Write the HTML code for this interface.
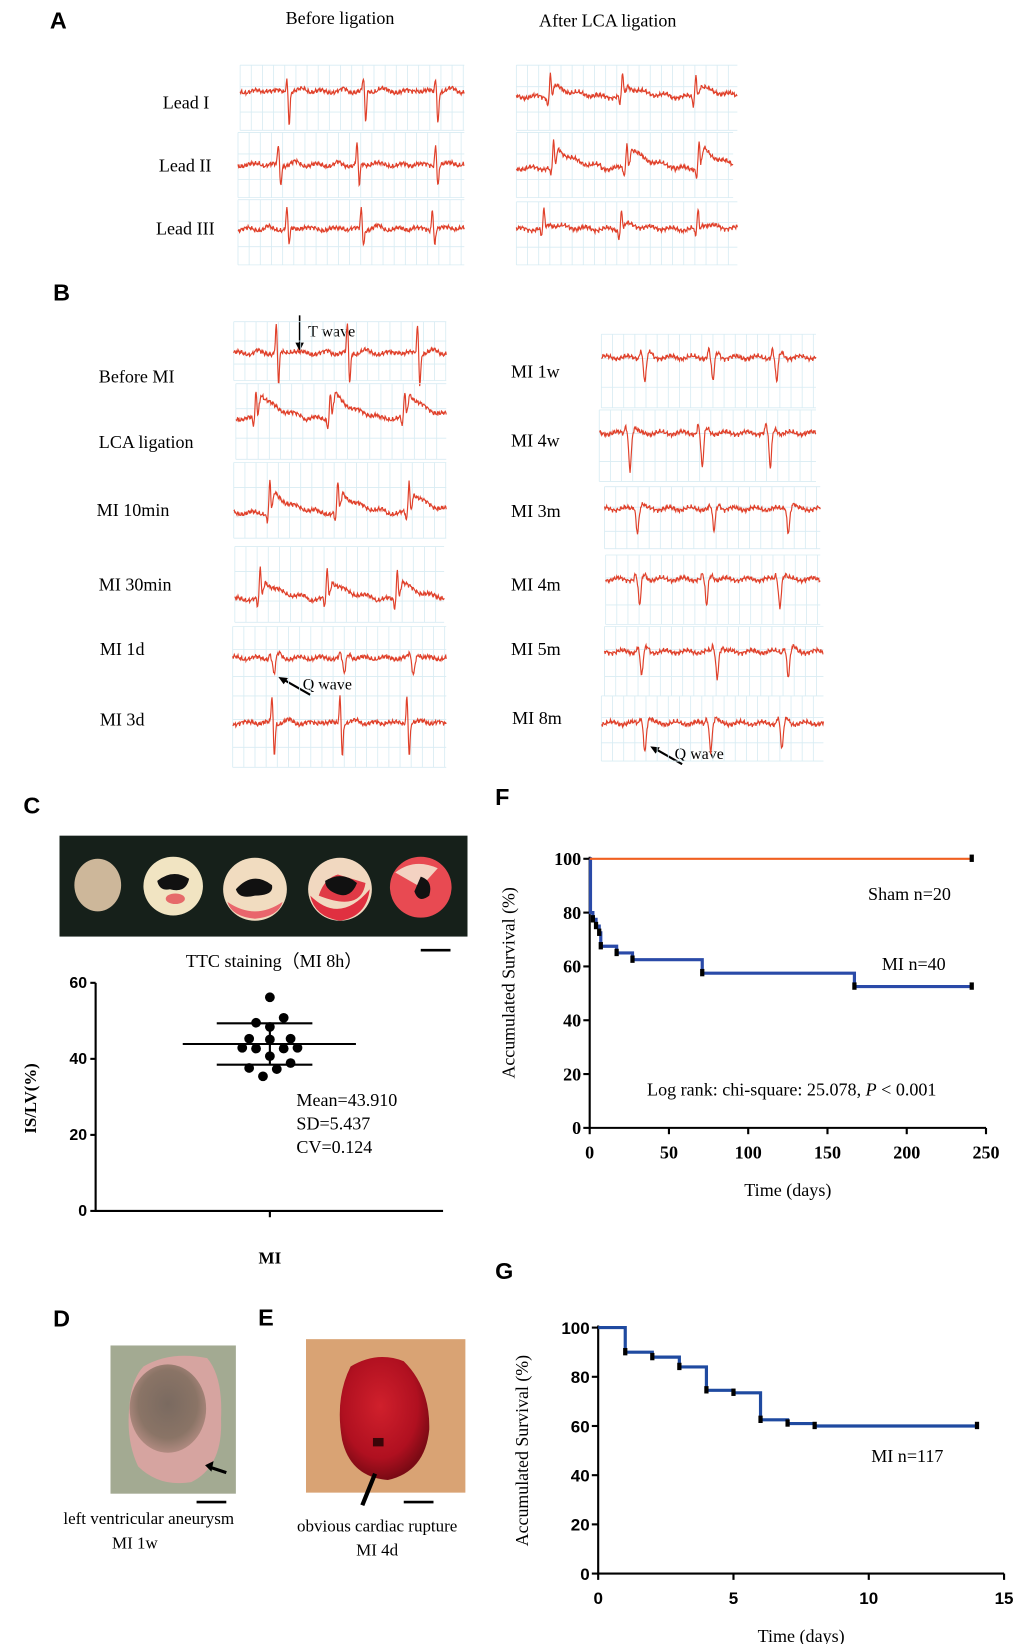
<!DOCTYPE html>
<html><head><meta charset="utf-8">
<style>
html,body{margin:0;padding:0;background:#fff;}
svg{display:block;}
.serif{font-family:"Liberation Serif",serif;}
.sans{font-family:"Liberation Sans",sans-serif;}
</style></head>
<body>
<svg id="fig" width="1020" height="1644" viewBox="0 0 960 1564" preserveAspectRatio="none" xmlns="http://www.w3.org/2000/svg">
<defs>
<radialGradient id="hd" cx="50%" cy="45%" r="55%"><stop offset="0" stop-color="#7a6a60"/><stop offset="0.7" stop-color="#8a7466"/><stop offset="1" stop-color="#b08a80"/></radialGradient>
<radialGradient id="he" cx="45%" cy="40%" r="60%"><stop offset="0" stop-color="#d0202c"/><stop offset="0.7" stop-color="#b01020"/><stop offset="1" stop-color="#7a0a14"/></radialGradient>
</defs>
<g id="panelA">
<text x="47" y="27" class="sans" font-size="22" font-weight="bold">A</text>
<text x="320" y="23" class="serif" font-size="17" text-anchor="middle">Before ligation</text>
<text x="572" y="25" class="serif" font-size="17" text-anchor="middle">After LCA ligation</text>
<text x="197" y="103" class="serif" font-size="17" text-anchor="end">Lead I</text>
<text x="199" y="163" class="serif" font-size="17" text-anchor="end">Lead II</text>
<text x="202" y="223" class="serif" font-size="17" text-anchor="end">Lead III</text>
</g>
<g id="panelB">
<text x="50" y="286" class="sans" font-size="22" font-weight="bold">B</text>
<text x="93" y="364" class="serif" font-size="17">Before MI</text>
<text x="93" y="426" class="serif" font-size="17">LCA ligation</text>
<text x="91" y="491" class="serif" font-size="17">MI 10min</text>
<text x="93" y="562" class="serif" font-size="17">MI 30min</text>
<text x="94" y="623" class="serif" font-size="17">MI 1d</text>
<text x="94" y="690" class="serif" font-size="17">MI 3d</text>
<text x="481" y="359" class="serif" font-size="17">MI 1w</text>
<text x="481" y="425" class="serif" font-size="17">MI 4w</text>
<text x="481" y="492" class="serif" font-size="17">MI 3m</text>
<text x="481" y="562" class="serif" font-size="17">MI 4m</text>
<text x="481" y="623" class="serif" font-size="17">MI 5m</text>
<text x="482" y="689" class="serif" font-size="17">MI 8m</text>
<line x1="282" y1="300" x2="282" y2="330" stroke="#000" stroke-width="1.5"/>
<path d="M278,326 L282,334 L286,326 Z" fill="#000"/>
<text x="290" y="320" class="serif" font-size="15">T wave</text>
<line x1="292" y1="661" x2="266" y2="646" stroke="#000" stroke-width="2"/>
<path d="M262,644 L271,645 L267,651 Z" fill="#000"/>
<text x="285" y="656" class="serif" font-size="15">Q wave</text>
<line x1="642" y1="727" x2="616" y2="712" stroke="#000" stroke-width="2"/>
<path d="M612,710 L621,711 L617,717 Z" fill="#000"/>
<text x="635" y="722" class="serif" font-size="15">Q wave</text>
</g>
<g id="ecgs"></g>

<g id="panelC">
<text x="22" y="774" class="sans" font-size="22" font-weight="bold">C</text>
<rect x="56" y="795" width="384" height="96" fill="#16201a"/>
<ellipse cx="92" cy="842" rx="22" ry="25" fill="#cdb79a"/>
<g><circle cx="163" cy="843" r="28" fill="#f1e4c2"/><ellipse cx="165" cy="855" rx="9" ry="5" fill="#e66a6a"/><path d="M148,838 Q163,826 178,836 Q175,850 160,846 Q150,848 148,838 Z" fill="#111"/></g>
<g><circle cx="240" cy="846" r="30" fill="#f1dcc0"/><path d="M214,858 Q240,876 266,858 Q262,872 240,874 Q218,872 214,858Z" fill="#e9656c"/><path d="M222,846 Q238,828 256,842 Q258,852 240,852 Q225,856 222,846 Z" fill="#111"/></g>
<g><circle cx="320" cy="846" r="30" fill="#f1d8c0"/><path d="M292,852 Q320,880 348,846 Q345,872 320,876 Q296,872 292,852Z" fill="#e03040"/><path d="M300,852 Q340,868 344,840 L318,832 Q305,836 300,852Z" fill="#e03a46"/><path d="M306,838 Q322,828 336,840 Q330,856 316,850 Q306,846 306,838 Z" fill="#111"/></g>
<g><circle cx="396" cy="844" r="29" fill="#e84a52"/><path d="M372,830 Q390,816 412,826 L396,844 Z" fill="#f3d2c2"/><path d="M396,834 Q408,838 404,852 Q394,860 390,848 Z" fill="#111"/></g>
<line x1="396" y1="904" x2="424" y2="904" stroke="#000" stroke-width="2.5"/>
<text x="258" y="920" class="serif" font-size="17" text-anchor="middle">TTC staining（MI 8h）</text>
</g>
<g id="chartC"></g>

<g id="panelD">
<text x="50" y="1262" class="sans" font-size="22" font-weight="bold">D</text>
<rect x="104" y="1280" width="118" height="141" fill="#a3aa92"/>
<path d="M135,1300 Q160,1285 195,1292 Q210,1310 208,1350 Q210,1395 180,1410 Q150,1415 130,1395 Q118,1370 122,1335 Q124,1312 135,1300Z" fill="#d6a4a0"/>
<ellipse cx="158" cy="1340" rx="36" ry="42" fill="url(#hd)"/>
<line x1="213" y1="1401" x2="198" y2="1396" stroke="#000" stroke-width="3"/>
<path d="M193,1394 L201,1390 L199,1400 Z" fill="#000"/>
<line x1="185" y1="1429" x2="213" y2="1429" stroke="#000" stroke-width="2.5"/>
<text x="140" y="1450" class="serif" font-size="16" text-anchor="middle">left ventricular aneurysm</text>
<text x="127" y="1473" class="serif" font-size="16" text-anchor="middle">MI 1w</text>
</g>
<g id="panelE">
<text x="243" y="1261" class="sans" font-size="22" font-weight="bold">E</text>
<rect x="288" y="1274" width="150" height="146" fill="#d9a374"/>
<path d="M330,1300 Q355,1285 380,1295 Q405,1320 404,1360 Q400,1400 365,1408 Q330,1405 322,1370 Q315,1330 330,1300Z" fill="url(#he)"/>
<rect x="351" y="1368" width="10" height="8" fill="#3a0508"/>
<line x1="353" y1="1402" x2="341" y2="1432" stroke="#000" stroke-width="4"/>
<line x1="380" y1="1429" x2="408" y2="1429" stroke="#000" stroke-width="2.5"/>
<text x="355" y="1457" class="serif" font-size="16" text-anchor="middle">obvious  cardiac rupture</text>
<text x="355" y="1480" class="serif" font-size="16" text-anchor="middle">MI  4d</text>
</g>

<g id="chartF">
<text x="466" y="766" class="sans" font-size="22" font-weight="bold">F</text>
</g>
<g id="chartG">
<text x="466" y="1217" class="sans" font-size="22" font-weight="bold">G</text>
</g>
</svg>
<script>
var cValues = [56.2, 49.5, 50.8, 48.4, 45.3, 45.1, 45.3, 42.9, 42.7, 42.7, 42.9, 40.7, 37.6, 37.3, 38.9, 35.4];
var cJitter = [0, -2, 2, 0, -3, 0, 3, -4, -2, 2, 4, 0, -3, 1, 3, -1];
var cMean = 43.91;
var cSD = 5.437;
var cTicks = [0, 20, 40, 60];
var fTimes = [0, 0.5, 2, 4, 6, 7, 17, 27, 71, 167, 241];
var fMI = [100, 80, 77.5, 75, 72.5, 67.5, 65, 62.5, 57.5, 52.5, 52.5];
var fShamTimes = [0, 241];
var fSham = [100, 100];
var fXTicks = [0, 50, 100, 150, 200, 250];
var fYTicks = [0, 20, 40, 60, 80, 100];
var gTimes = [0, 1, 2, 3, 4, 5, 6, 7, 8, 14];
var gMI = [100, 90, 88, 84, 74.5, 73.5, 62.5, 61, 60, 60];
var gCensor = [1, 2, 3, 4, 5, 6, 7, 8, 14];
var gXTicks = [0, 5, 10, 15];
var gYTicks = [0, 20, 40, 60, 80, 100];

var NS = 'http://www.w3.org/2000/svg';
function mk(tag, attrs, parent) {
  var e = document.createElementNS(NS, tag);
  for (var k in attrs) e.setAttribute(k, attrs[k]);
  parent.appendChild(e);
  return e;
}
function txt(s, attrs, parent) { var t = mk('text', attrs, parent); t.textContent = s; return t; }

var ecgs = document.getElementById('ecgs');
var panels = [
 ['lead-i-before',226,437,62,124,87,[270,342,410],'n',12,30],
 ['lead-i-after',486,694,62,124,92,[518,586,655],'st',22,12],
 ['lead-ii-before',224,437,126,188,157,[262,336,410],'n',20,20],
 ['lead-ii-after',486,690,126,188,160,[521,590,658],'st',25,22],
 ['lead-iii-before',224,437,190,252,218,[270,340,407],'n',20,15],
 ['lead-iii-after',486,694,192,252,218,[512,585,657],'st',18,6],
 ['before-mi',220,420,306,362,336,[260,327,393],'n',27,30],
 ['lca-ligation',222,420,365,437,398,[241,311,381],'st',25,28],
 ['mi-10min',220,420,440,512,488,[254,318,385],'st',30,22],
 ['mi-30min',221,418,520,592,570,[245,308,374],'st',30,20],
 ['mi-1d',219,420,596,662,626,[257,323,388],'q',16,4],
 ['mi-3d',219,420,662,730,688,[256,320,383],'n',26,30],
 ['mi-1w',566,768,318,388,340,[606,670,730],'q',24,8],
 ['mi-4w',564,768,390,458,412,[592,660,724],'q',34,8],
 ['mi-3m',569,772,463,522,484,[599,671,741],'q',22,2],
 ['mi-4m',570,772,528,594,551,[601,664,733],'q',26,4],
 ['mi-5m',569,775,596,662,620,[603,674,741],'q',24,5],
 ['mi-8m',566,775,662,724,688,[606,668,735],'q',26,6]
];
panels.forEach(function(p){
  var g = mk('g', {}, ecgs);
  
  
  for (var x = p[1]; x <= p[2]; x += 10.5) mk('line', {x1:x, y1:p[3], x2:x, y2:p[4], stroke:'#d8ecf3', 'stroke-width':0.8}, g);
  var h = p[4]-p[3];
  [0, 0.33, 0.72, 1].forEach(function(f){ mk('line', {x1:p[1], y1:p[3]+h*f, x2:p[2], y2:p[3]+h*f, stroke:'#d8ecf3', 'stroke-width':0.8}, g); });
  var d = '';
  for (var x = p[1]; x <= p[2]; x += 0.5) {
    var y = p[5] + 1.1*Math.sin(x*1.9) + 0.9*Math.sin(x*3.7+p[3]) + 1.5*Math.sin(x*0.31+p[3]) + 0.7*Math.sin(x*5.3);
    p[6].forEach(function(b){
      var dx = x - b;
      if (p[7]==='n') {
        y += -p[8]*Math.exp(-Math.pow(dx/1.1,2)) + p[9]*Math.exp(-Math.pow((dx-2.2)/1.1,2)) - 2.5*Math.exp(-Math.pow((dx-16)/5,2)) - 2*Math.exp(-Math.pow((dx+18)/3,2));
      } else if (p[7]==='st') {
        y += -p[8]*Math.exp(-Math.pow(dx/1.1,2)) + 8*Math.exp(-Math.pow((dx+2.5)/1.0,2));
        if (dx > 1.5 && dx < 45) y -= p[9]*Math.exp(-(dx-1.5)/18)*Math.min(1,(dx-1.5)/3);
      } else {
        y += -p[9]*Math.exp(-Math.pow((dx+3)/1.2,2)) + p[8]*Math.exp(-Math.pow((dx-1)/1.6,2)) - 4*Math.exp(-Math.pow((dx-6)/2.5,2));
      }
    });
    d += (d ? 'L' : 'M') + x.toFixed(1) + ',' + y.toFixed(1);
  }
  mk('path', {d:d, fill:'none', stroke:'#e0402a', 'stroke-width':1.1}, g);
});

(function(){
  var g = document.getElementById('chartC');
  var x0 = 90, x1 = 417, cx = 254, yTop = 935, yBot = 1152;
  function ys(v){ return yBot - (v/60)*(yBot-yTop); }
  var ax = mk('path', {d:'M'+x0+','+yTop+' L'+x0+','+yBot+' L'+x1+','+yBot, fill:'none', stroke:'#000', 'stroke-width':2}, g);
  
  
  cTicks.forEach(function(v){
    mk('line', {x1:x0-5, y1:ys(v), x2:x0, y2:ys(v), stroke:'#000', 'stroke-width':2}, g);
    var t = txt(String(v), {x:x0-8, y:ys(v)+5, 'font-size':15, 'font-weight':'bold', 'text-anchor':'end', 'class':'sans'}, g);
    
    
  });
  mk('line', {x1:cx, y1:yBot, x2:cx, y2:yBot+6, stroke:'#000', 'stroke-width':2}, g);
  var xl = txt('MI', {x:cx, y:1202, 'font-size':16, 'font-weight':'bold', 'text-anchor':'middle', 'class':'serif'}, g);
  
  
  var yl = txt('IS/LV(%)', {x:0, y:0, 'font-size':16, 'font-weight':'bold', 'text-anchor':'middle', 'class':'serif', transform:'translate(34,1045) rotate(-90)'}, g);
  
  
  cValues.forEach(function(v, i){
    var c = mk('circle', {cx:cx + cJitter[i]*6.5, cy:ys(v), r:4.6, fill:'#000'}, g);
    
    
  });
  var ml = mk('line', {x1:172, y1:ys(cMean), x2:335, y2:ys(cMean), stroke:'#000', 'stroke-width':2}, g);
  
  
  [cMean+cSD, cMean-cSD].forEach(function(v){
    var s = mk('line', {x1:204, y1:ys(v), x2:294, y2:ys(v), stroke:'#000', 'stroke-width':2}, g);
    
    
  });
  mk('line', {x1:cx, y1:ys(cMean+cSD), x2:cx, y2:ys(cMean-cSD), stroke:'#000', 'stroke-width':2}, g);
  ['Mean=43.910','SD=5.437','CV=0.124'].forEach(function(s, i){
    var t = txt(s, {x:279, y:1052+i*22.5, 'font-size':17, 'class':'serif'}, g);
    
    
  });
})();

function survival(g, o) {
  function xs(v){ return o.x0 + (v - 0)/o.xmax*(o.x1-o.x0); }
  function ys(v){ return o.y0 - v/100*(o.y0-o.y1); }
  var ax = mk('path', {d:'M'+o.x0+','+(o.y1-2)+' L'+o.x0+','+o.y0+' L'+o.x1+','+o.y0, fill:'none', stroke:'#000', 'stroke-width':2}, g);
  
  
  o.yTicks.forEach(function(v){
    mk('line', {x1:o.x0-6, y1:ys(v), x2:o.x0, y2:ys(v), stroke:'#000', 'stroke-width':2}, g);
    var t = txt(String(v), {x:o.x0-8, y:ys(v)+6, 'font-size':o.fs, 'font-weight':'bold', 'text-anchor':'end', 'class':o.tf}, g);
    
    
  });
  o.xTicks.forEach(function(v){
    mk('line', {x1:xs(v), y1:o.y0, x2:xs(v), y2:o.y0+6, stroke:'#000', 'stroke-width':2}, g);
    var t = txt(String(v), {x:xs(v), y:o.y0+29, 'font-size':o.fs, 'font-weight':'bold', 'text-anchor':'middle', 'class':o.tf}, g);
    
    
  });
  var xt = txt('Time (days)', {x:(o.x0+o.x1)/2, y:o.y0+65, 'font-size':17, 'text-anchor':'middle', 'class':'serif'}, g);
  
  
  var yt = txt('Accumulated  Survival (%)', {x:0, y:0, 'font-size':17, 'text-anchor':'middle', 'class':'serif', transform:'translate('+o.ytx+','+o.yty+') rotate(-90)'}, g);
  
  
  o.series.forEach(function(s){
    var d = 'M' + xs(s.t[0]) + ',' + ys(s.v[0]);
    for (var i = 1; i < s.t.length; i++) d += ' L' + xs(s.t[i]) + ',' + ys(s.v[i-1]) + ' L' + xs(s.t[i]) + ',' + ys(s.v[i]);
    var p = mk('path', {d:d, fill:'none', stroke:s.color, 'stroke-width':s.w}, g);
    
    
    s.censor.forEach(function(c){
      var k = 0; for (var j = 0; j < s.t.length; j++) if (s.t[j] <= c) k = j;
      var m = mk('rect', {x:xs(c)-2, y:ys(s.v[k])-4, width:4, height:7, fill:'#000'}, g);
      
      
    });
  });
}
survival(document.getElementById('chartF'), {
  id:'f', x0:555, x1:928, xmax:250, y0:1073, y1:817, fs:17, tf:'serif', ytx:484, yty:935,
  xTicks:fXTicks, yTicks:fYTicks,
  series:[
    {name:'mi-survival-line', t:fTimes, v:fMI, color:'#2a4aa8', w:3, censor:fTimes.slice(2)},
    {name:'sham-survival-line', t:fShamTimes, v:fSham, color:'#f06020', w:2, censor:[241]}
  ]
});
survival(document.getElementById('chartG'), {
  id:'g', x0:563, x1:945, xmax:15, y0:1497, y1:1263, fs:16, tf:'sans', ytx:497, yty:1380,
  xTicks:gXTicks, yTicks:gYTicks,
  series:[{name:'mi-117-survival-line', t:gTimes, v:gMI, color:'#1f4aa0', w:3, censor:gCensor}]
});
(function(){
  var f = document.getElementById('chartF');
  var a = txt('Sham n=20', {x:817, y:856, 'font-size':17, 'class':'serif'}, f);
  
  
  var b = txt('MI n=40', {x:830, y:923, 'font-size':17, 'class':'serif'}, f);
  
  
  var c = txt('', {x:609, y:1042, 'font-size':17, 'class':'serif'}, f);
  
  
  c.innerHTML = 'Log rank: chi-square: 25.078,  <tspan font-style="italic">P</tspan> &lt; 0.001';
  var g = document.getElementById('chartG');
  var d = txt('MI n=117', {x:820, y:1391, 'font-size':17, 'class':'serif'}, g);
  
  
})();
</script>
</body></html>
